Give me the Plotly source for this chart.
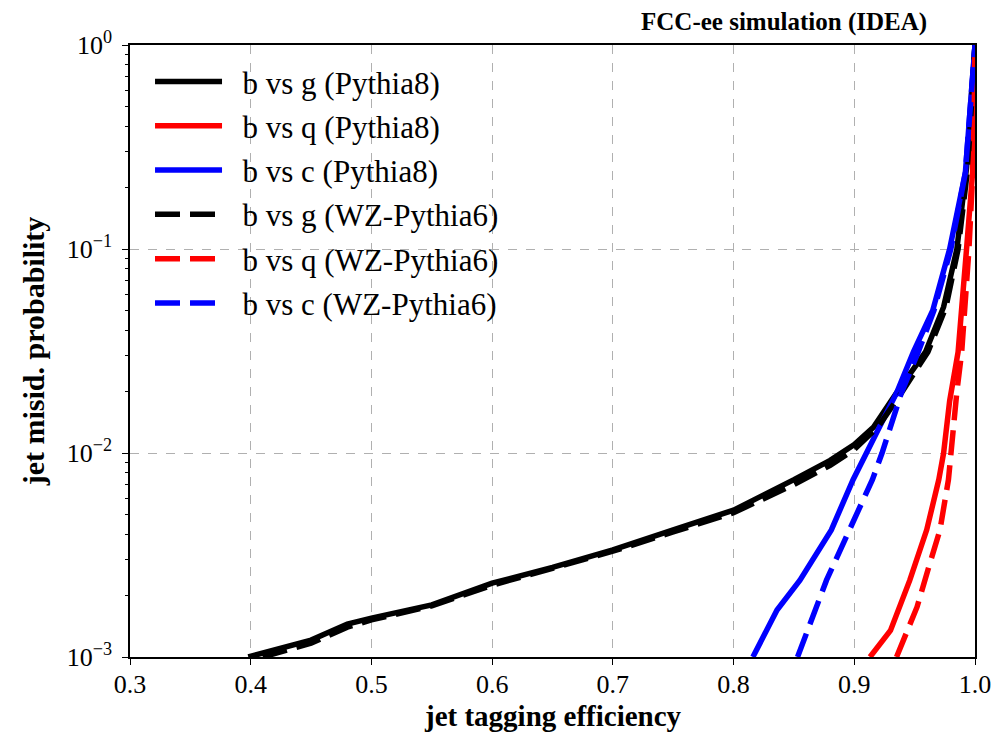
import plotly.graph_objects as go

# ---- data ----
g_p8_eff = [0.398, 0.42, 0.45, 0.48, 0.50, 0.55, 0.60, 0.65, 0.70, 0.75, 0.80, 0.85, 0.88, 0.90, 0.916, 0.935, 0.959, 0.974, 0.985, 0.993, 1.0]
g_p8_mis = [1.0e-3, 1.08e-3, 1.21e-3, 1.45e-3, 1.55e-3, 1.8e-3, 2.3e-3, 2.75e-3, 3.35e-3, 4.2e-3, 5.25e-3, 7.4e-3, 9.2e-3, 1.1e-2, 1.34e-2, 1.97e-2, 3.13e-2, 5.2e-2, 0.1, 0.25, 1.0]

q_p8_eff = [0.913, 0.930, 0.946, 0.960, 0.970, 0.974, 0.979, 0.986, 0.993, 0.998, 1.0]
q_p8_mis = [1.0e-3, 1.35e-3, 2.38e-3, 4.2e-3, 7.4e-3, 1.0e-2, 1.8e-2, 3.13e-2, 0.1, 0.236, 1.0]

c_p8_eff = [0.816, 0.836, 0.855, 0.881, 0.899, 0.910, 0.922, 0.935, 0.949, 0.965, 0.979, 0.992, 1.0]
c_p8_mis = [1.0e-3, 1.7e-3, 2.38e-3, 4.2e-3, 7.4e-3, 1.0e-2, 1.4e-2, 1.97e-2, 3.13e-2, 5.0e-2, 0.1, 0.236, 1.0]

g_p6_eff = [0.41, 0.45, 0.48, 0.50, 0.55, 0.60, 0.65, 0.70, 0.75, 0.80, 0.85, 0.88, 0.90, 0.92, 0.939, 0.961, 0.976, 0.986, 0.994, 1.0]
g_p6_mis = [1.0e-3, 1.17e-3, 1.4e-3, 1.52e-3, 1.78e-3, 2.25e-3, 2.72e-3, 3.3e-3, 4.1e-3, 5.1e-3, 7.0e-3, 8.7e-3, 1.04e-2, 1.35e-2, 1.97e-2, 3.13e-2, 5.2e-2, 0.1, 0.25, 1.0]

q_p6_eff = [0.935, 0.952, 0.962, 0.971, 0.978, 0.980, 0.985, 0.989, 0.995, 0.999, 1.0]
q_p6_mis = [1.0e-3, 1.76e-3, 2.8e-3, 4.2e-3, 7.4e-3, 1.0e-2, 2.0e-2, 3.13e-2, 0.1, 0.3, 1.0]

c_p6_eff = [0.853, 0.877, 0.896, 0.915, 0.923, 0.931, 0.939, 0.953, 0.966, 0.980, 0.992, 1.0]
c_p6_mis = [1.0e-3, 2.38e-3, 4.2e-3, 7.4e-3, 1.0e-2, 1.41e-2, 1.97e-2, 3.13e-2, 5.0e-2, 0.1, 0.236, 1.0]

series_names = ["b vs g (Pythia8)", "b vs q (Pythia8)", "b vs c (Pythia8)",
                "b vs g (WZ-Pythia6)", "b vs q (WZ-Pythia6)", "b vs c (WZ-Pythia6)"]

x_tick_vals = [0.3, 0.4, 0.5, 0.6, 0.7, 0.8, 0.9, 1.0]
x_tick_text = ["0.3", "0.4", "0.5", "0.6", "0.7", "0.8", "0.9", "1.0"]
y_tick_vals = [1e-3, 1e-2, 1e-1, 1.0]
y_tick_text = ["10<sup>−3</sup>", "10<sup>−2</sup>", "10<sup>−1</sup>", "10<sup>0</sup>"]

x_title = "jet tagging efficiency"
y_title = "jet misid. probability"
top_title = "FCC-ee simulation (IDEA)"

# ---- figure ----
FONT = "Liberation Serif, Times New Roman, serif"
DASH = "25px,10px"
series = [
    (g_p8_eff, g_p8_mis, "black", "solid"),
    (q_p8_eff, q_p8_mis, "#ff0000", "solid"),
    (c_p8_eff, c_p8_mis, "#0000ff", "solid"),
    (g_p6_eff, g_p6_mis, "black", DASH),
    (q_p6_eff, q_p6_mis, "#ff0000", DASH),
    (c_p6_eff, c_p6_mis, "#0000ff", DASH),
]

fig = go.Figure()
for i, (xe, ym, col, dash) in enumerate(series):
    fig.add_trace(go.Scatter(
        x=xe, y=ym, mode="lines", name="\u00a0\u00a0" + series_names[i],
        line=dict(color=col, width=5.5, dash=dash),
        legendgroup=f"g{i}",
    ))

minor_vals = [m * 10.0 ** e for e in (-3, -2, -1) for m in range(2, 10)]

fig.update_layout(
    width=996, height=734,
    margin=dict(l=130, r=21, t=45, b=77),
    paper_bgcolor="white", plot_bgcolor="white",
    font=dict(family=FONT, size=26, color="black"),
    showlegend=True,
    legend=dict(
        x=0.0237, y=0.984, xanchor="left", yanchor="top",
        bgcolor="rgba(255,255,255,0)", borderwidth=0,
        font=dict(family=FONT, size=31, color="black"),
        itemwidth=67, tracegroupgap=1,
    ),
    annotations=[
        dict(text=f"<b>{top_title}</b>", xref="paper", yref="paper",
             x=0.946, y=1.0, xanchor="right", yanchor="bottom", yshift=7,
             showarrow=False, font=dict(family=FONT, size=25, color="black")),
        dict(text=f"<b>{x_title}</b>", xref="paper", yref="paper",
             x=0.5, y=0, xanchor="center", yanchor="middle", yshift=-59,
             showarrow=False, font=dict(family=FONT, size=29, color="black")),
    ],
)

fig.update_xaxes(
    range=[0.3, 1.0], tickmode="array", tickvals=x_tick_vals, ticktext=x_tick_text,
    ticks="", ticklabelstandoff=3,
    minor=dict(tickmode="array", tickvals=x_tick_vals, ticks="outside", ticklen=6,
               tickwidth=1.2, tickcolor="black", showgrid=False),
    showline=True, linecolor="black", linewidth=1.5, mirror=True,
    showgrid=True, gridcolor="#b0b0b0", gridwidth=1, griddash="dash",
    zeroline=False, automargin=False,
    tickfont=dict(family=FONT, size=26),
)
fig.update_yaxes(
    type="log", range=[-3, 0], tickmode="array", tickvals=y_tick_vals, ticktext=y_tick_text,
    ticks="outside", ticklen=6, tickwidth=1.2, tickcolor="black",
    minor=dict(tickmode="array", tickvals=minor_vals, ticks="outside", ticklen=3.5,
               tickwidth=1, tickcolor="black", showgrid=False),
    showline=True, linecolor="black", linewidth=1.5, mirror=True,
    showgrid=True, gridcolor="#b0b0b0", gridwidth=1, griddash="dash",
    zeroline=False, automargin=False, ticklabelstandoff=5,
    tickfont=dict(family=FONT, size=26),
    title=dict(text=f"<b>{y_title}</b>", font=dict(family=FONT, size=30), standoff=13),
)

fig.write_html("out.html")
